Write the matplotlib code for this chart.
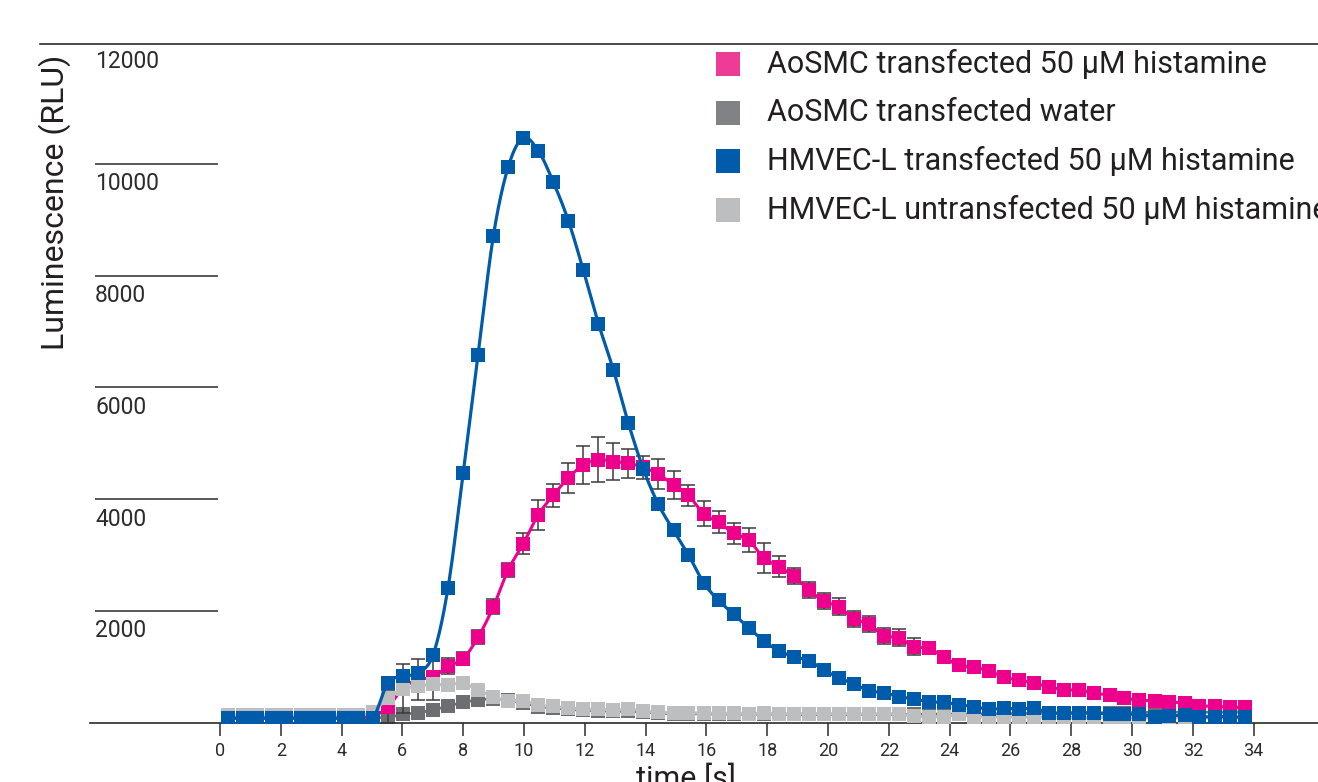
import numpy as np
import matplotlib
matplotlib.use("Agg")
import matplotlib.pyplot as plt
from matplotlib.lines import Line2D
from matplotlib.patches import Rectangle
from matplotlib.transforms import offset_copy

# sampling times (s)
time_s = [
    0.27, 0.75, 1.22, 1.70, 2.17, 2.65, 3.13, 3.60, 4.08, 4.55, 5.03,
    5.52, 6.02, 6.51, 7.01, 7.50, 8.00, 8.49, 8.99, 9.48, 9.97,
    10.47, 10.96, 11.46, 11.95, 12.45, 12.94, 13.43, 13.93, 14.42, 14.92,
    15.41, 15.91, 16.40, 16.90, 17.39, 17.88, 18.38, 18.87, 19.37, 19.86,
    20.36, 20.85, 21.35, 21.84, 22.33, 22.83, 23.32, 23.82, 24.31, 24.81,
    25.30, 25.79, 26.29, 26.78, 27.28, 27.77, 28.27, 28.76, 29.26, 29.75,
    30.24, 30.74, 31.23, 31.73, 32.22, 32.72, 33.21, 33.71,
]

aosmc_histamine = [
    110, 110, 110, 110, 110, 110, 110, 110, 110, 110, 120,
    277, 620, 771, 821, 1009, 1150, 1531, 2074, 2734, 3199,
    3721, 4068, 4381, 4610, 4707, 4673, 4644, 4569, 4449, 4254,
    4068, 3741, 3590, 3390, 3270, 2954, 2793, 2626, 2376, 2179,
    2077, 1857, 1768, 1553, 1523, 1362, 1333, 1172, 1029, 993,
    930, 814, 766, 707, 646, 587, 587, 528, 497, 438,
    408, 395, 377, 349, 301, 301, 277, 277,
]

aosmc_histamine_err = [
    0, 0, 0, 0, 0, 0, 0, 0, 0, 0, 40,
    300, 440, 363, 410, 143, 120, 130, 134, 131, 188,
    265, 212, 266, 337, 404, 334, 260, 204, 265, 258,
    186, 225, 191, 191, 215, 268, 188, 149, 149, 149,
    149, 149, 149, 146, 149, 149, 80, 80, 80, 80,
    80, 80, 80, 80, 80, 80, 80, 80, 80, 80,
    80, 80, 80, 80, 80, 80, 80, 80,
]

aosmc_water = [
    90, 90, 90, 90, 90, 90, 90, 90, 90, 90, 90,
    98, 152, 181, 229, 300, 367, 408, 430, 400, 360,
    290, 265, 240, 225, 215, 205, 210, 190, 175, 160,
    160, 160, 155, 155, 150, 155, 150, 150, 150, 150,
    150, 150, 150, 150, 150, 150, 155, 155, 155, 160,
    160, 165, 165, 170, 170, 175, 175, 180, 180, 180,
    185, 185, 190, 190, 190, 190, 190, 190,
]

hmvec_histamine = [
    80, 80, 80, 80, 80, 80, 80, 80, 80, 80, 80,
    710, 835, 890, 1218, 2413, 4471, 6583, 8703, 9942, 10462,
    10233, 9677, 8981, 8099, 7140, 6313, 5367, 4533, 3907, 3442,
    3004, 2503, 2190, 1941, 1702, 1469, 1290, 1183, 1111, 945,
    807, 694, 574, 539, 467, 426, 378, 364, 325, 288,
    242, 259, 242, 259, 181, 176, 176, 176, 152, 152,
    152, 109, 121, 140, 109, 109, 109, 98,
]

hmvec_untransfected = [
    140, 140, 140, 140, 140, 140, 140, 140, 140, 140, 200,
    449, 599, 658, 689, 676, 707, 587, 467, 395, 397,
    313, 293, 265, 245, 245, 224, 245, 211, 190, 175,
    175, 175, 170, 170, 165, 170, 160, 165, 165, 160,
    165, 160, 160, 165, 160, 115, 110, 110, 150, 110,
    110, 105, 105, 100, 100, 95, 95, 95, 90, 90,
    90, 90, 90, 85, 85, 85, 85, 85,
]

series_labels = [
    "AoSMC transfected 50 µM histamine",
    "AoSMC transfected water",
    "HMVEC-L transfected 50 µM histamine",
    "HMVEC-L untransfected 50 µM histamine",
]
y_ticks = [2000, 4000, 6000, 8000, 10000, 12000]
x_ticks = list(range(0, 35, 2))

PINK = "#EC008C"
DARK_GREY = "#6D6E71"
BLUE = "#005BAA"
LIGHT_GREY = "#BCBEC0"
legend_colors = ["#EE3B98", "#808285", BLUE, LIGHT_GREY]
INK = "#2b2b2b"

plt.rcParams["font.family"] = ["Roboto", "DejaVu Sans"]


def smooth(x, y, steps=12):
    # Catmull-Rom spline through the measured points
    x = np.asarray(x, float)
    y = np.asarray(y, float)
    n = len(x)
    u = np.linspace(0, 1, steps, endpoint=False)[:, None]

    def interp(p):
        p = np.concatenate([[2 * p[0] - p[1]], p, [2 * p[-1] - p[-2]]])
        p0, p1, p2, p3 = p[0:n - 1], p[1:n], p[2:n + 1], p[3:n + 2]
        out = 0.5 * (2 * p1 + (-p0 + p2) * u
                     + (2 * p0 - 5 * p1 + 4 * p2 - p3) * u ** 2
                     + (-p0 + 3 * p1 - 3 * p2 + p3) * u ** 3)
        return np.append(out.T.ravel(), p[-2])

    return interp(x), interp(y)


W, H = 1318, 782
fig = plt.figure(figsize=(W / 100, H / 100), dpi=100)
ax = fig.add_axes([90 / W, (H - 722.8) / H, (W - 90) / W, (722.8 - 44) / H])
ax.set_xlim(-4.276, 36.118)
ax.set_ylim(0, 12143)

for side in ("left", "right", "top"):
    ax.spines[side].set_visible(False)
ax.spines["bottom"].set_color(INK)
ax.spines["bottom"].set_linewidth(1.2)

ax.set_yticks([])
ax.set_xticks(x_ticks)
ax.tick_params(axis="x", direction="out", length=9.5, width=1.1, color=INK,
               labelsize=13, labelcolor=INK, pad=4)

# short rules in the left margin with the value printed beneath each
ax.hlines(y_ticks[:-1], -4.11, -0.07, color=INK, lw=1.1, clip_on=False)
for v in y_ticks:
    dy = -10 if v == y_ticks[-1] else -20
    ax.text(-4.11, v, f"{v}", ha="left", va="center", fontsize=16.5, color=INK,
            transform=offset_copy(ax.transData, fig=fig, y=dy, units="dots"))

mk = dict(ms=9.4, mew=0, ls="none", marker="s")

# AoSMC water
ax.plot(*smooth(time_s, aosmc_water), color=DARK_GREY, lw=2, zorder=2)
ax.plot(time_s, aosmc_water, color=DARK_GREY, zorder=2.1, **mk)

# AoSMC histamine with error bars
ax.errorbar(time_s, aosmc_histamine, yerr=aosmc_histamine_err, fmt="none",
            ecolor="#3a3a3a", elinewidth=1.1, capsize=5.2, capthick=1.1, zorder=3)
ax.plot(*smooth(time_s, aosmc_histamine), color=PINK, lw=2.2, zorder=3.2)
ax.plot(time_s, aosmc_histamine, color=PINK, zorder=3.3, **mk)

# HMVEC-L untransfected
ax.plot(*smooth(time_s, hmvec_untransfected), color=LIGHT_GREY, lw=2.2, zorder=4)
ax.plot(time_s, hmvec_untransfected, color=LIGHT_GREY, zorder=4.1, **mk)

# HMVEC-L transfected
ax.plot(*smooth(time_s, hmvec_histamine), color=BLUE, lw=2.3, zorder=5)
ax.plot(time_s, hmvec_histamine, color=BLUE, zorder=5.1, **mk)

# rule across the top
fig.add_artist(Line2D([40 / W, 1], [1 - 44 / H] * 2, transform=fig.transFigure,
                      color=INK, lw=1.2))

# legend
for i, (label, color) in enumerate(zip(series_labels, legend_colors)):
    yc = 1 - (64 + 48.7 * i) / H
    fig.add_artist(Rectangle((716 / W, yc - 12 / H), 24 / W, 24 / H,
                             transform=fig.transFigure, color=color, lw=0))
    fig.text(767 / W, yc, label, ha="left", va="center", fontsize=22, color="#231f20")

fig.text(55 / W, 1 - 202 / H, "Luminescence (RLU)", rotation=90,
         ha="center", va="center", fontsize=23, color="#231f20")
fig.text(686 / W, 1 - 788 / H, "time [s]", ha="center", va="baseline",
         fontsize=22, color="#231f20")

fig.savefig("out.png", dpi=100)
